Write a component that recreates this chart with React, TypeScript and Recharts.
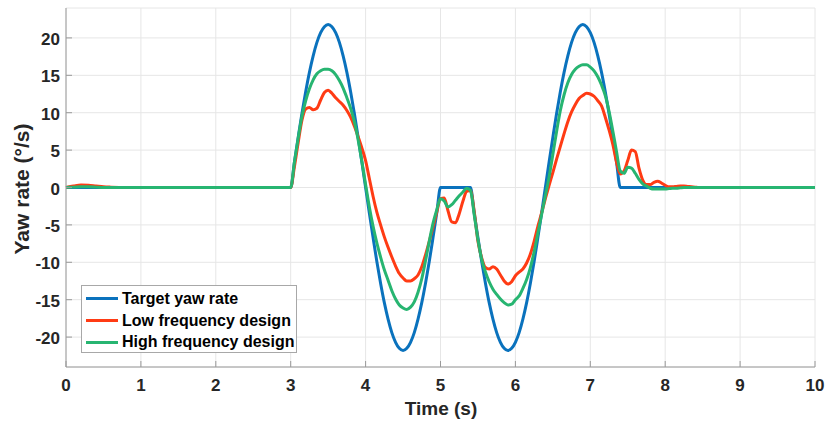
import React from "react";
import { LineChart, Line, XAxis, YAxis, CartesianGrid } from "recharts";

document.body.style.margin = "0";

const FONT = "'Liberation Sans', Arial, sans-serif";
const TEXT = "#262626";
const AXIS = "#9a9a9a";

// time base (s)
const time = [
    0, 0.1, 0.2, 0.3, 0.4, 0.5, 0.6, 0.8, 1, 2,
    3.0, 3.05, 3.1, 3.15, 3.2, 3.25, 3.3, 3.35, 3.4, 3.45,
    3.5, 3.55, 3.6, 3.65, 3.7, 3.75, 3.8, 3.85, 3.9, 3.95,
    4.0, 4.05, 4.1, 4.15, 4.2, 4.25, 4.3, 4.35, 4.4, 4.45,
    4.5, 4.55, 4.6, 4.65, 4.7, 4.75, 4.8, 4.85, 4.9, 4.95,
    5.0, 5.05, 5.1, 5.15, 5.2, 5.25, 5.3, 5.35, 5.4, 5.45,
    5.5, 5.55, 5.6, 5.65, 5.7, 5.75, 5.8, 5.85, 5.9, 5.95,
    6.0, 6.05, 6.1, 6.15, 6.2, 6.25, 6.3, 6.35, 6.4, 6.45,
    6.5, 6.55, 6.6, 6.65, 6.7, 6.75, 6.8, 6.85, 6.9, 6.95,
    7.0, 7.05, 7.1, 7.15, 7.2, 7.25, 7.3, 7.35, 7.4, 7.45,
    7.5, 7.55, 7.6, 7.65, 7.7, 7.75, 7.8, 7.85, 7.9, 7.95,
    8.0, 8.05, 8.1, 8.15, 8.2, 8.25, 8.3, 8.35, 8.4, 8.45,
    8.5, 9, 10,
];

const targetRate = [
    0, 0, 0, 0, 0, 0, 0, 0, 0, 0,
    0, 3.4, 6.7, 9.9, 12.8, 15.4, 17.6, 19.4, 20.7, 21.5,
    21.8, 21.5, 20.7, 19.4, 17.6, 15.4, 12.8, 9.9, 6.7, 3.4,
    0, -3.4, -6.7, -9.9, -12.8, -15.4, -17.6, -19.4, -20.7, -21.5,
    -21.8, -21.5, -20.7, -19.4, -17.6, -15.4, -12.8, -9.9, -6.7, -3.4,
    0, 0, 0, 0, 0, 0, 0, 0, 0, -3.4,
    -6.7, -9.9, -12.8, -15.4, -17.6, -19.4, -20.7, -21.5, -21.8, -21.5,
    -20.7, -19.4, -17.6, -15.4, -12.8, -9.9, -6.7, -3.4, 0, 3.4,
    6.7, 9.9, 12.8, 15.4, 17.6, 19.4, 20.7, 21.5, 21.8, 21.5,
    20.7, 19.4, 17.6, 15.4, 12.8, 9.9, 6.7, 3.4, 0, 0,
    0, 0, 0, 0, 0, 0, 0, 0, 0, 0,
    0, 0, 0, 0, 0, 0, 0, 0, 0, 0,
    0, 0, 0,
];

const lowFreq = [
    0, 0.2, 0.35, 0.3, 0.2, 0.1, 0.05, 0, 0, 0,
    0, 2.8, 6.0, 9.0, 10.5, 10.7, 10.4, 10.6, 11.7, 12.7,
    13.0, 12.6, 12.0, 11.5, 11.0, 10.3, 9.4, 8.2, 6.8, 5.3,
    3.6, 1.2, -1.2, -3.3, -5.0, -6.6, -8.0, -9.3, -10.5, -11.5,
    -12.1, -12.5, -12.5, -12.2, -11.7, -10.6, -9.0, -7.2, -5.3, -3.3,
    -1.5, -1.4, -3.1, -4.6, -4.7, -3.5, -1.8, -0.5, -0.4, -3.2,
    -7.2, -9.4, -10.7, -10.9, -10.6, -10.9, -11.7, -12.5, -12.9, -12.6,
    -11.8, -11.3, -10.9, -10.1, -8.9, -7.2, -5.2, -3.4, -1.5, 0.3,
    2.0, 3.8, 5.5, 7.2, 8.8, 10.1, 11.1, 11.9, 12.3, 12.6,
    12.5, 12.2, 11.6, 10.9, 9.4, 7.7, 5.8, 3.4, 1.8, 2.2,
    3.6, 5.0, 4.8, 2.6, 1.0, 0.4, 0.4, 0.7, 0.85, 0.6,
    0.3, 0.1, 0.1, 0.15, 0.2, 0.2, 0.15, 0.1, 0.05, 0,
    0, 0, 0,
];

const highFreq = [
    0, 0.05, 0.1, 0.1, 0.05, 0, 0, 0, 0, 0,
    0, 3.4, 6.6, 9.5, 11.6, 13.2, 14.4, 15.2, 15.6, 15.8,
    15.8, 15.6, 15.1, 14.3, 13.3, 12.0, 10.6, 8.8, 6.4, 3.5,
    0.4, -2.6, -5.2, -7.4, -9.3, -11.0, -12.4, -13.8, -14.9, -15.7,
    -16.1, -16.3, -16.0, -15.3, -14.0, -12.2, -9.8, -7.2, -4.8, -3.0,
    -1.5, -1.8, -2.6, -2.3, -1.7, -1.1, -0.6, -0.1, -0.4, -3.6,
    -7.0, -9.6, -11.3, -12.6, -13.6, -14.3, -14.9, -15.4, -15.7, -15.6,
    -15.0, -14.5, -13.5, -12.3, -10.7, -8.6, -6.1, -3.6, -1.1, 1.4,
    4.4, 7.5, 10.3, 12.4, 14.0, 15.1, 15.8, 16.2, 16.4, 16.4,
    16.1, 15.6, 14.8, 13.7, 12.3, 10.2, 7.6, 4.8, 2.2, 1.9,
    2.7, 2.6, 1.9, 1.1, 0.5, 0.2, -0.1, -0.2, -0.2, -0.2,
    -0.2, -0.15, -0.1, -0.1, -0.05, 0, 0, 0, 0, 0,
    0, 0, 0,
];

const xTicks = [0, 1, 2, 3, 4, 5, 6, 7, 8, 9, 10];
const yTicks = [-20, -15, -10, -5, 0, 5, 10, 15, 20];

const series = [
    { key: "target", name: "Target yaw rate", color: "#0a72bd" },
    { key: "low", name: "Low frequency design", color: "#ff3b14" },
    { key: "high", name: "High frequency design", color: "#27b571" },
];

const data = time.map((t, i) => ({
    t,
    target: targetRate[i],
    low: lowFreq[i],
    high: highFreq[i],
}));

// inward tick marks, MATLAB style
const LeftTick = (props: any) => {
    const { x, y, payload } = props;
    return (
        <g>
            <line x1={x + 6} x2={x + 12} y1={y} y2={y} stroke={AXIS} />
            <text x={x} y={y + 7} textAnchor="end" fill={TEXT} fontSize={17} fontWeight="bold" fontFamily={FONT}>
                {payload.value}
            </text>
        </g>
    );
};

const BottomTick = (props: any) => {
    const { x, y, payload } = props;
    return (
        <g>
            <line x1={x} x2={x} y1={y} y2={y - 6} stroke={AXIS} />
            <text x={x} y={y + 24} textAnchor="middle" fill={TEXT} fontSize={17} fontWeight="bold" fontFamily={FONT}>
                {payload.value}
            </text>
        </g>
    );
};

const TopTick = (props: any) => {
    const { x, y } = props;
    return <line x1={x} x2={x} y1={y} y2={y + 6} stroke={AXIS} />;
};

const RightTick = (props: any) => {
    const { x, y } = props;
    return <line x1={x} x2={x - 6} y1={y} y2={y} stroke={AXIS} />;
};

export default function App() {
    return (
        <div style={{ position: "relative", width: 828, height: 423, background: "#fff", fontFamily: FONT }}>
            <LineChart width={828} height={423} data={data} margin={{ top: 8, right: 13, bottom: 0, left: 0 }}>
                <CartesianGrid stroke="#e6e6e6" strokeWidth={1} />
                <XAxis
                    dataKey="t"
                    type="number"
                    domain={[0, 10]}
                    ticks={xTicks}
                    height={56}
                    axisLine={{ stroke: AXIS }}
                    tickLine={false}
                    tickSize={0}
                    tickMargin={0}
                    tick={<BottomTick />}
                    interval={0}
                />
                <XAxis
                    xAxisId="top"
                    orientation="top"
                    dataKey="t"
                    type="number"
                    domain={[0, 10]}
                    ticks={xTicks}
                    height={0}
                    axisLine={{ stroke: AXIS }}
                    tickLine={false}
                    tickSize={0}
                    tickMargin={0}
                    tick={<TopTick />}
                    interval={0}
                />
                <YAxis
                    type="number"
                    domain={[-24, 24]}
                    ticks={yTicks}
                    width={66}
                    axisLine={{ stroke: AXIS }}
                    tickLine={false}
                    tickSize={0}
                    tickMargin={6}
                    tick={<LeftTick />}
                    interval={0}
                />
                <YAxis
                    yAxisId="right"
                    orientation="right"
                    type="number"
                    domain={[-24, 24]}
                    ticks={yTicks}
                    width={0}
                    axisLine={{ stroke: AXIS }}
                    tickLine={false}
                    tickSize={0}
                    tickMargin={0}
                    tick={<RightTick />}
                    interval={0}
                />
                {series.map((s) => (
                    <Line
                        key={s.key}
                        dataKey={s.key}
                        name={s.name}
                        type="monotone"
                        stroke={s.color}
                        strokeWidth={3}
                        dot={false}
                        activeDot={false}
                        isAnimationActive={false}
                    />
                ))}
            </LineChart>

            {/* axis titles */}
            <div
                style={{
                    position: "absolute",
                    left: 22,
                    top: 189,
                    transform: "translate(-50%, -50%) rotate(-90deg)",
                    whiteSpace: "nowrap",
                    fontSize: 21,
                    fontWeight: "bold",
                    color: TEXT,
                }}
            >
                Yaw rate (°/s)
            </div>
            <div
                style={{
                    position: "absolute",
                    left: 441,
                    top: 409,
                    transform: "translate(-50%, -50%)",
                    whiteSpace: "nowrap",
                    fontSize: 19,
                    fontWeight: "bold",
                    color: TEXT,
                }}
            >
                Time (s)
            </div>

            {/* legend box */}
            <div
                style={{
                    position: "absolute",
                    left: 81,
                    top: 285,
                    width: 214,
                    height: 64,
                    border: "1px solid #a8a8a8",
                    background: "#fff",
                    padding: "2px 0 0 0",
                }}
            >
                {series.map((s) => (
                    <div key={s.key} style={{ display: "flex", alignItems: "center", height: 21.7 }}>
                        <span style={{ display: "inline-block", width: 32, height: 3, marginLeft: 4, marginRight: 4, background: s.color }} />
                        <span style={{ fontSize: 16, fontWeight: "bold", color: "#000", whiteSpace: "nowrap" }}>{s.name}</span>
                    </div>
                ))}
            </div>
        </div>
    );
}
